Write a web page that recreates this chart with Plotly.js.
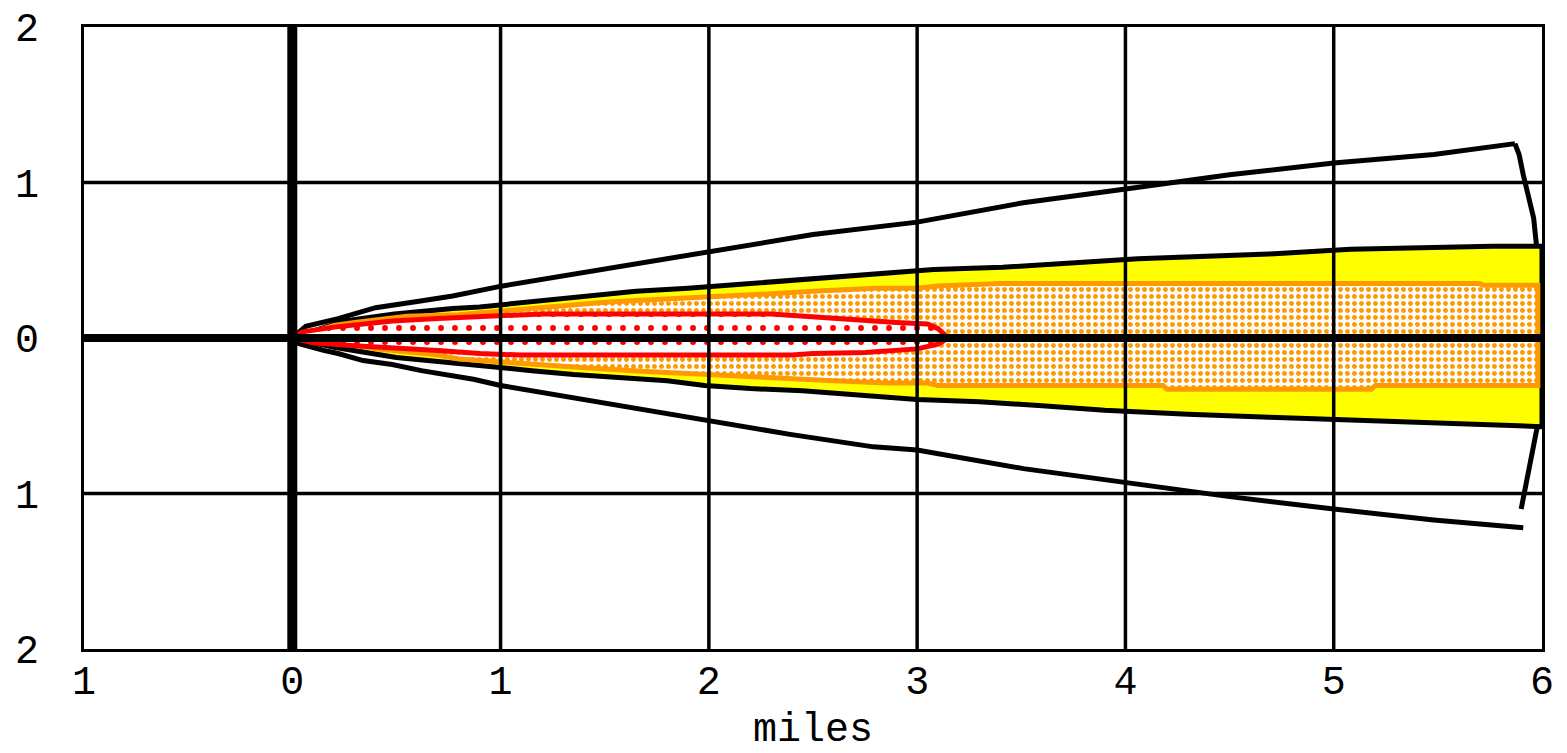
<!DOCTYPE html>
<html>
<head>
<meta charset="utf-8">
<script src="https://cdn.plot.ly/plotly-3.0.1.min.js"></script>
<style>
  html, body { margin: 0; padding: 0; background: #ffffff; }
  #chart { width: 1567px; height: 753px; }
</style>
</head>
<body>
<div id="chart"></div>
<script>
// ---- Axis ticks (labels as printed: no minus signs) ----
const xTicks = [-1, 0, 1, 2, 3, 4, 5, 6];
const xTickText = ['1', '0', '1', '2', '3', '4', '5', '6'];
const yTicks = [-2, -1, 0, 1, 2];
const yTickText = ['2', '1', '0', '1', '2'];

// ---- Wind direction confidence lines (miles) ----
const confUpperX = [0, 0.065, 0.22, 0.40, 0.60, 0.77, 1.01, 1.40, 1.83, 2.01, 2.50, 3.00, 3.51, 4.01, 4.50, 5.00, 5.48, 5.87];
const confUpperY = [0, 0.075, 0.125, 0.195, 0.235, 0.27, 0.335, 0.42, 0.52, 0.555, 0.665, 0.745, 0.87, 0.96, 1.05, 1.125, 1.18, 1.25];
const confLowerX = [0, 0.03, 0.15, 0.22, 0.34, 0.48, 0.62, 0.73, 0.87, 1.00, 1.28, 1.61, 2.00, 2.39, 2.79, 3.00, 3.51, 4.01, 4.50, 5.00, 5.48, 5.91];
const confLowerY = [0, -0.035, -0.08, -0.10, -0.145, -0.17, -0.21, -0.235, -0.265, -0.305, -0.37, -0.445, -0.53, -0.62, -0.70, -0.72, -0.84, -0.93, -1.02, -1.10, -1.17, -1.22];
const arcX = [5.87, 5.89, 5.91, 5.93, 5.96, 5.97, 5.99, 6.00, 5.99, 5.97, 5.94, 5.92, 5.90];
const arcY = [1.25, 1.18, 1.05, 0.94, 0.77, 0.64, 0.40, 0.00, -0.49, -0.62, -0.84, -0.96, -1.10];

// ---- Yellow threat zone ----
const yellowX = [0, 0.25, 0.49, 0.60, 0.77, 0.90, 1.05, 1.35, 1.65, 1.90, 2.20, 2.40, 2.65, 2.90, 3.08, 3.41, 3.74, 4.06, 4.69, 5.08, 5.76, 6.0,
                 6.0, 5.76, 5.08, 4.69, 4.30, 3.90, 3.60, 3.30, 3.00, 2.70, 2.45, 2.20, 1.98, 1.80, 1.55, 1.35, 1.15, 0.97, 0.85, 0.65, 0.50, 0.40, 0.20, 0];
const yellowY = [0, 0.11, 0.155, 0.17, 0.19, 0.20, 0.22, 0.26, 0.30, 0.32, 0.35, 0.37, 0.39, 0.42, 0.44, 0.455, 0.48, 0.51, 0.54, 0.57, 0.59, 0.59,
                 -0.57, -0.56, -0.53, -0.51, -0.49, -0.465, -0.435, -0.41, -0.395, -0.365, -0.34, -0.325, -0.305, -0.275, -0.255, -0.235, -0.21, -0.185, -0.165, -0.145, -0.125, -0.105, -0.06, 0];

// ---- Orange threat zone ----
const orangeX = [0, 0.20, 0.30, 0.42, 0.55, 0.80, 1.00, 1.20, 1.50, 1.70, 1.95, 2.30, 2.50, 2.80, 3.00, 3.10, 3.40, 5.70, 5.72, 5.98,
                 5.98, 5.20, 5.18, 4.20, 4.18, 3.10, 3.05, 2.85, 2.60, 2.35, 2.00, 1.70, 1.50, 1.20, 0.95, 0.80, 0.70, 0.55, 0.40, 0.30, 0];
const orangeY = [0, 0.08, 0.10, 0.12, 0.14, 0.15, 0.175, 0.195, 0.23, 0.245, 0.265, 0.285, 0.30, 0.32, 0.32, 0.335, 0.35, 0.35, 0.34, 0.34,
                 -0.305, -0.305, -0.33, -0.33, -0.305, -0.305, -0.29, -0.29, -0.275, -0.26, -0.235, -0.215, -0.20, -0.17, -0.15, -0.135, -0.11, -0.09, -0.07, -0.045, 0];

// ---- Red threat zone ----
const redX = [0, 0.05, 0.20, 0.35, 0.48, 0.70, 1.00, 1.20, 2.30, 2.40, 2.65, 2.90, 3.05, 3.10, 3.15,
              3.10, 3.00, 2.75, 2.50, 2.40, 1.10, 0.90, 0.70, 0.45, 0.30, 0.10, 0];
const redY = [0, 0.04, 0.07, 0.09, 0.11, 0.125, 0.145, 0.155, 0.155, 0.145, 0.125, 0.10, 0.09, 0.06, 0,
              -0.04, -0.07, -0.093, -0.10, -0.11, -0.11, -0.10, -0.08, -0.065, -0.05, -0.03, 0];

// ---- Build grid line traces from tick arrays ----
const xMin = xTicks[0], xMax = xTicks[xTicks.length - 1];
const yMin = yTicks[0], yMax = yTicks[yTicks.length - 1];
const gx = [], gy = [];
xTicks.slice(1, -1).forEach(v => { if (v !== 0) { gx.push(v, v, null); gy.push(yMin, yMax, null); } });
yTicks.slice(1, -1).forEach(v => { if (v !== 0) { gx.push(xMin, xMax, null); gy.push(v, v, null); } });

const FONT = '"Courier New", "Liberation Mono", monospace';

const traces = [
  { x: confUpperX, y: confUpperY, mode: 'lines', line: { color: '#000', width: 5 } },
  { x: confLowerX, y: confLowerY, mode: 'lines', line: { color: '#000', width: 5 } },
  { x: arcX, y: arcY, mode: 'lines', line: { color: '#000', width: 5 } },
  { x: yellowX, y: yellowY, mode: 'lines', fill: 'toself', fillcolor: '#ffff00',
    line: { color: '#000', width: 5 } },
  { x: orangeX, y: orangeY, mode: 'lines', fill: 'toself',
    fillpattern: { shape: '.', fgcolor: '#ff9900', bgcolor: '#ffffff', size: 7, solidity: 0.4 },
    line: { color: '#ff9900', width: 5 } },
  { x: redX, y: redY, mode: 'lines', fill: 'toself',
    fillpattern: { shape: '.', fgcolor: '#ff0000', bgcolor: '#ffffff', size: 14, solidity: 0.14 },
    line: { color: '#ff0000', width: 5 } },
  { x: gx, y: gy, mode: 'lines', line: { color: '#000', width: 3.5 }, connectgaps: false },
  { x: [xMin, xMax], y: [0, 0], mode: 'lines', line: { color: '#000', width: 8 } },
  { x: [0, 0], y: [yMin, yMax], mode: 'lines', line: { color: '#000', width: 10 } }
];
traces.forEach(t => { t.hoverinfo = 'skip'; t.showlegend = false; });

const layout = {
  width: 1567, height: 753,
  margin: { l: 84, r: 25, t: 27, b: 104, pad: 0 },
  paper_bgcolor: '#ffffff', plot_bgcolor: '#ffffff',
  showlegend: false,
  font: { family: FONT, size: 40, color: '#000' },
  xaxis: {
    range: [xMin, xMax], tickmode: 'array', tickvals: xTicks, ticktext: xTickText,
    showgrid: false, zeroline: false, showline: true, mirror: true,
    linecolor: '#000', linewidth: 3, ticks: '', ticklabelstandoff: -6,
    tickfont: { family: FONT, size: 40, color: '#000' },
    title: { text: 'miles', font: { family: FONT, size: 40, color: '#000' }, standoff: 36 },
    automargin: false, fixedrange: true
  },
  yaxis: {
    range: [yMin, yMax], tickmode: 'array', tickvals: yTicks, ticktext: yTickText,
    showgrid: false, zeroline: false, showline: true, mirror: true,
    linecolor: '#000', linewidth: 3, ticks: '', ticklabelstandoff: 34,
    tickfont: { family: FONT, size: 40, color: '#000' },
    automargin: false, fixedrange: true
  }
};

Plotly.newPlot('chart', traces, layout, { displayModeBar: false, staticPlot: true });
</script>
</body>
</html>
